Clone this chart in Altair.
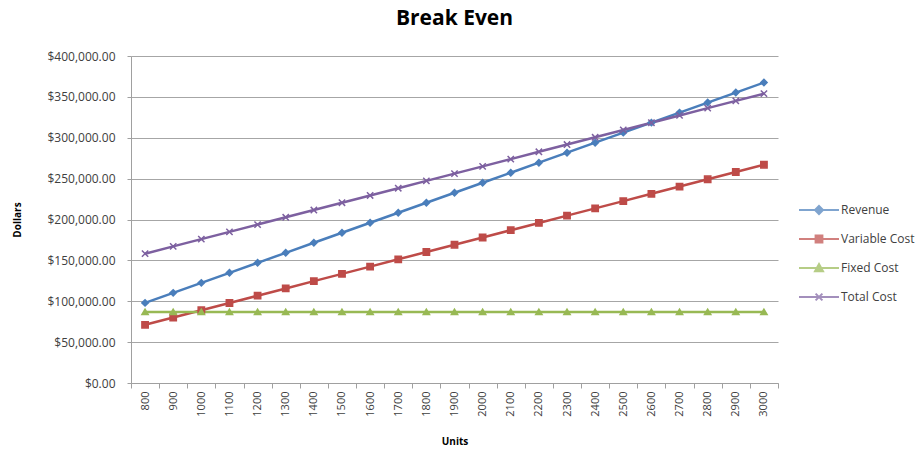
import altair as alt
import pandas as pd

units = [800, 900, 1000, 1100, 1200, 1300, 1400, 1500, 1600, 1700, 1800, 1900,
         2000, 2100, 2200, 2300, 2400, 2500, 2600, 2700, 2800, 2900, 3000]
revenue = [98000, 110250, 122500, 134750, 147000, 159250, 171500, 183750, 196000,
           208250, 220500, 232750, 245000, 257250, 269500, 281750, 294000, 306250,
           318500, 330750, 343000, 355250, 367500]
variable_cost = [71200, 80100, 89000, 97900, 106800, 115700, 124600, 133500, 142400,
                 151300, 160200, 169100, 178000, 186900, 195800, 204700, 213600,
                 222500, 231400, 240300, 249200, 258100, 267000]
fixed_cost = [87000] * 23
total_cost = [158200, 167100, 176000, 184900, 193800, 202700, 211600, 220500, 229400,
              238300, 247200, 256100, 265000, 273900, 282800, 291700, 300600, 309500,
              318400, 327300, 336200, 345100, 354000]
y_ticks = [0, 50000, 100000, 150000, 200000, 250000, 300000, 350000, 400000]

series_names = ["Revenue", "Variable Cost", "Fixed Cost", "Total Cost"]
colors = ["#4A7EBB", "#BE4B48", "#98B954", "#7D60A0"]
plot_shapes = ["diamond", "square", "triangle-up", "M-1,-1L1,1M-1,1L1,-1"]
legend_paths = [
    "M-1,0H1M0,-0.2L0.2,0L0,0.2L-0.2,0Z",
    "M-1,0H1M-0.17,-0.17H0.17V0.17H-0.17Z",
    "M-1,0H1M0,-0.2L0.2,0.16H-0.2Z",
    "M-1,0H1M-0.17,-0.17L0.17,0.17M-0.17,0.17L0.17,-0.17",
]

rows = []
for name, vals in zip(series_names, [revenue, variable_cost, fixed_cost, total_cost]):
    for u, v in zip(units, vals):
        rows.append({"Units": u, "Dollars": v, "Series": name})
df = pd.DataFrame(rows)

font = "Open Sans"
label_color = "#404040"
color_scale = alt.Scale(domain=series_names, range=colors)

x_enc = alt.X("Units:O", title="Units",
              scale=alt.Scale(type="band", paddingInner=0, paddingOuter=0),
              axis=alt.Axis(labelAngle=-90, tickBand="extent", labelFontSize=11,
                            labelColor=label_color, titleFontSize=10, titleFontWeight="bold",
                            domainColor="#A0A0A0", tickColor="#A0A0A0", tickSize=5,
                            grid=False, labelPadding=3, titlePadding=20,
                            labelBaseline="middle", labelAlign="right"))
y_enc = alt.Y("Dollars:Q", title="Dollars",
              scale=alt.Scale(domain=[0, 400000]),
              axis=alt.Axis(format="$,.2f", values=y_ticks, labelOverlap=False,
                            labelFontSize=12, labelColor=label_color, titleFontSize=10,
                            titleFontWeight="bold", domainColor="#A0A0A0",
                            tickColor="#A0A0A0", tickSize=4, gridColor="#A6A6A6",
                            gridWidth=1, titlePadding=24, labelPadding=12))

base = alt.Chart(df)

lines = base.mark_line(strokeWidth=2.5).encode(
    x=x_enc, y=y_enc,
    color=alt.Color("Series:N", scale=color_scale, legend=None),
    detail="Series:N",
)

points = base.mark_point(filled=True, size=40, opacity=1, strokeWidth=1.5).encode(
    x=x_enc, y=y_enc,
    color=alt.Color("Series:N", scale=color_scale, legend=None),
    stroke=alt.Stroke("Series:N", scale=color_scale, legend=None),
    shape=alt.Shape("Series:N", scale=alt.Scale(domain=series_names, range=plot_shapes),
                    legend=None),
)

legend_props = dict(title=None, orient="none", legendX=667, legendY=133,
                    labelFontSize=12, labelColor=label_color, symbolSize=1600,
                    symbolStrokeWidth=2, rowPadding=-8, labelOffset=1)

legend_layer = base.transform_filter("false").mark_point(filled=True, strokeWidth=2).encode(
    x=x_enc, y=y_enc,
    color=alt.Color("Series:N", scale=alt.Scale(domain=series_names, range=colors),
                    legend=alt.Legend(**legend_props)),
    stroke=alt.Stroke("Series:N", scale=alt.Scale(domain=series_names, range=colors),
                      legend=alt.Legend(**legend_props)),
    shape=alt.Shape("Series:N", scale=alt.Scale(domain=series_names, range=legend_paths),
                    legend=alt.Legend(**legend_props)),
)

chart = alt.layer(lines, points, legend_layer).resolve_scale(
    color="independent", shape="independent", stroke="independent"
).properties(
    width=647, height=327,
    title=alt.Title("Break Even", fontSize=21, font=font, fontWeight="bold", color="#000000",
                    anchor="middle", offset=21),
    padding={"left": 12, "top": 8, "right": 5, "bottom": 5},
).configure(font=font).configure_view(stroke=None)

chart.save("out.html", embed_options={"renderer": "svg", "actions": False})
